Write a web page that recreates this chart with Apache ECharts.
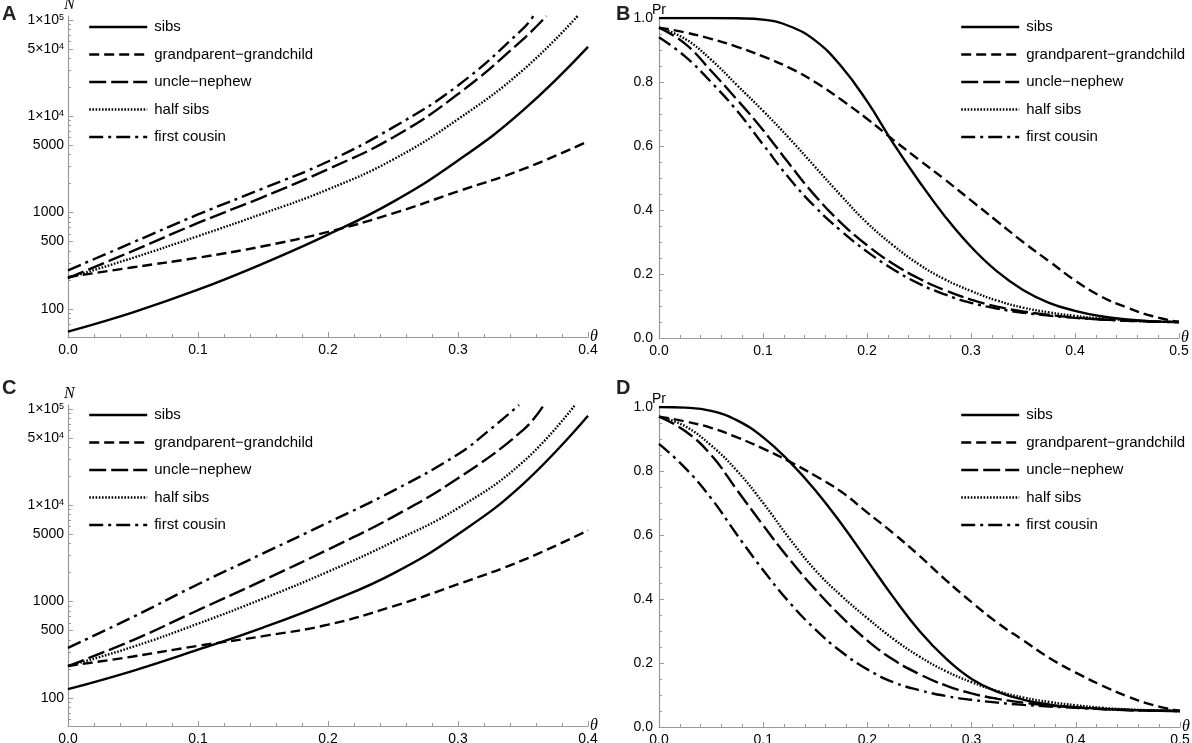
<!DOCTYPE html>
<html>
<head>
<meta charset="utf-8">
<title>N and Pr against theta</title>
<script src="https://cdn.jsdelivr.net/npm/echarts@6/dist/echarts.min.js"></script>
<style>
html, body { margin: 0; padding: 0; background: #fff; }
#chart { width: 1192px; height: 743px; }
</style>
</head>
<body>
<div id="chart"></div>
<script>
// 关系名称（图例）
var relNames = ['sibs', 'grandparent\u2212grandchild', 'uncle\u2212nephew', 'half sibs', 'first cousin'];

// A、C 两图的 θ 取值
var thetaN = [0, 0.05, 0.1, 0.15, 0.2, 0.25, 0.3, 0.35, 0.4];
// 在上边界处截止的曲线各自的 θ
var thetaAUncle = [0, 0.05, 0.1, 0.15, 0.2, 0.25, 0.3, 0.35, 0.368];
var thetaAHalf = [0, 0.05, 0.1, 0.15, 0.2, 0.25, 0.3, 0.35, 0.392];
var thetaACousin = [0, 0.05, 0.1, 0.15, 0.2, 0.25, 0.3, 0.35, 0.358];
var thetaCUncle = [0, 0.05, 0.1, 0.15, 0.2, 0.25, 0.3, 0.35, 0.366];
var thetaCHalf = [0, 0.05, 0.1, 0.15, 0.2, 0.25, 0.3, 0.35, 0.39];
var thetaCCousin = [0, 0.05, 0.1, 0.15, 0.2, 0.25, 0.3, 0.325, 0.347];

// 图 A：N
var aSibs = [58, 92, 158, 295, 590, 1290, 3470, 11500, 52500];
var aGrand = [214, 270, 340, 447, 630, 980, 1660, 2820, 5500];
var aUncle = [209, 400, 780, 1450, 2820, 6030, 17000, 63000, 110000];
var aHalf = [209, 339, 569, 977, 1740, 3550, 9330, 30200, 110000];
var aCousin = [251, 490, 955, 1780, 3390, 7670, 20900, 81300, 110000];

// 图 C：N
var cSibs = [123, 191, 316, 537, 977, 1950, 5000, 16600, 85000];
var cGrand = [214, 269, 347, 437, 575, 891, 1514, 2692, 5500];
var cUncle = [214, 398, 813, 1660, 3467, 7586, 19055, 60300, 110000];
var cHalf = [214, 339, 589, 1072, 2042, 4169, 9330, 28200, 110000];
var cCousin = [331, 692, 1514, 3162, 6607, 14125, 33900, 61700, 110000];

// B、D 两图的 θ 取值
var thetaPr = [0, 0.025, 0.05, 0.075, 0.1, 0.125, 0.15, 0.175, 0.2, 0.225, 0.25,
    0.275, 0.3, 0.325, 0.35, 0.375, 0.4, 0.425, 0.45, 0.475, 0.5];

// 图 B：Pr
var bSibs = [1.0, 1.0, 1.0, 0.999, 0.995, 0.975, 0.93, 0.85, 0.74, 0.61, 0.49,
    0.38, 0.285, 0.208, 0.15, 0.11, 0.085, 0.068, 0.058, 0.052, 0.05];
var bGrand = [0.97, 0.955, 0.935, 0.91, 0.88, 0.845, 0.80, 0.745, 0.685, 0.62, 0.557,
    0.495, 0.43, 0.365, 0.30, 0.24, 0.18, 0.13, 0.095, 0.068, 0.05];
var bUncle = [0.97, 0.92, 0.835, 0.745, 0.65, 0.545, 0.445, 0.36, 0.29, 0.232, 0.186,
    0.149, 0.12, 0.098, 0.083, 0.072, 0.064, 0.058, 0.054, 0.051, 0.05];
var bHalf = [0.97, 0.935, 0.87, 0.79, 0.71, 0.625, 0.535, 0.445, 0.36, 0.29, 0.23,
    0.183, 0.147, 0.117, 0.095, 0.08, 0.069, 0.061, 0.056, 0.052, 0.05];
var bCousin = [0.94, 0.88, 0.80, 0.71, 0.605, 0.50, 0.41, 0.335, 0.27, 0.215, 0.17,
    0.136, 0.11, 0.092, 0.079, 0.07, 0.063, 0.058, 0.054, 0.051, 0.05];

// 图 D：Pr
var dSibs = [1.0, 0.998, 0.988, 0.958, 0.905, 0.83, 0.74, 0.635, 0.52, 0.405, 0.30,
    0.215, 0.15, 0.11, 0.085, 0.07, 0.062, 0.057, 0.053, 0.051, 0.05];
var dGrand = [0.97, 0.955, 0.935, 0.905, 0.87, 0.83, 0.785, 0.735, 0.67, 0.605, 0.535,
    0.46, 0.39, 0.325, 0.27, 0.215, 0.17, 0.13, 0.095, 0.068, 0.05];
var dUncle = [0.97, 0.925, 0.85, 0.74, 0.63, 0.525, 0.43, 0.345, 0.27, 0.21, 0.165,
    0.13, 0.105, 0.088, 0.076, 0.067, 0.061, 0.056, 0.053, 0.051, 0.05];
var dHalf = [0.97, 0.94, 0.88, 0.80, 0.70, 0.59, 0.49, 0.41, 0.34, 0.275, 0.22,
    0.175, 0.14, 0.112, 0.092, 0.078, 0.068, 0.06, 0.055, 0.052, 0.05];
var dCousin = [0.885, 0.81, 0.715, 0.60, 0.49, 0.39, 0.305, 0.235, 0.18, 0.14, 0.115,
    0.097, 0.085, 0.076, 0.069, 0.064, 0.06, 0.056, 0.053, 0.051, 0.05];

// 对数轴刻度
var nMajorTicks = [100, 500, 1000, 5000, 10000, 50000, 100000];
var nMinorTicks = [60, 70, 80, 90, 200, 300, 400, 600, 700, 800, 900,
    2000, 3000, 4000, 6000, 7000, 8000, 9000,
    20000, 30000, 40000, 60000, 70000, 80000, 90000];

// 线型：实线、短虚线、长虚线、点线、点划线
var relDash = ['solid', [10, 5], [17, 5], [1.6, 1.6], [14, 5, 3, 5]];

var FONT = 'Liberation Sans';
var AXIS_GRAY = '#9a9a9a';

function zip(xs, ys) {
    var out = [];
    for (var i = 0; i < ys.length; i++) {
        out.push([xs[i], ys[i]]);
    }
    return out;
}

function fmtN(v) {
    if (v < 10000) return String(v);
    var e = Math.floor(Math.log10(v) + 1e-9);
    var m = Math.round(v / Math.pow(10, e));
    return m + '\u00d710{sup|' + e + '}';
}

function xAxisOf(gridIndex, max, nameBottom) {
    return {
        type: 'value',
        gridIndex: gridIndex,
        min: 0,
        max: max,
        interval: 0.1,
        name: '\u03b8',
        nameLocation: 'end',
        nameGap: 2,
        nameMoveOverlap: false,
        nameTextStyle: {
            fontFamily: 'Liberation Serif', fontStyle: 'italic', fontSize: 16,
            color: '#000', align: 'left', verticalAlign: 'middle', padding: [0, 0, nameBottom, 0]
        },
        axisLine: { lineStyle: { color: AXIS_GRAY, width: 1.2 } },
        axisTick: { inside: true, length: 5, lineStyle: { color: AXIS_GRAY } },
        minorTick: { show: true, splitNumber: 5, length: 3, lineStyle: { color: AXIS_GRAY } },
        splitLine: { show: false },
        minorSplitLine: { show: false },
        axisLabel: {
            color: '#000', fontSize: 14, fontFamily: FONT, margin: 6,
            formatter: function (v) { return v.toFixed(1); }
        }
    };
}

function logAxesOf(gridIndex) {
    var major = {
        type: 'log',
        gridIndex: gridIndex,
        position: 'left',
        min: 51,
        max: 110000,
        name: 'N',
        nameLocation: 'end',
        nameGap: 3,
        nameMoveOverlap: false,
        nameTextStyle: {
            fontFamily: 'Liberation Serif', fontStyle: 'italic', fontSize: 16,
            color: '#000', align: 'left', padding: [0, 0, 0, -4]
        },
        axisLine: { lineStyle: { color: AXIS_GRAY, width: 1.2 } },
        axisTick: { inside: true, length: 5, customValues: nMajorTicks, lineStyle: { color: AXIS_GRAY } },
        splitLine: { show: false },
        axisLabel: {
            customValues: nMajorTicks,
            formatter: fmtN,
            color: '#000', fontSize: 14, fontFamily: FONT, margin: 4,
            rich: {
                sup: { fontSize: 9, fontFamily: FONT, color: '#000', verticalAlign: 'top', lineHeight: 10 }
            }
        }
    };
    var minor = {
        type: 'log',
        gridIndex: gridIndex,
        position: 'left',
        min: 51,
        max: 110000,
        axisLine: { show: false },
        axisTick: { inside: true, length: 3, customValues: nMinorTicks, lineStyle: { color: AXIS_GRAY } },
        axisLabel: { show: false },
        splitLine: { show: false }
    };
    return [major, minor];
}

function prAxisOf(gridIndex) {
    return {
        type: 'value',
        gridIndex: gridIndex,
        min: 0,
        max: 1,
        interval: 0.2,
        name: 'Pr',
        nameLocation: 'end',
        nameGap: 1,
        nameMoveOverlap: false,
        nameTextStyle: { fontFamily: FONT, fontSize: 14, color: '#000' },
        axisLine: { lineStyle: { color: AXIS_GRAY, width: 1.2 } },
        axisTick: { inside: true, length: 5, lineStyle: { color: AXIS_GRAY } },
        minorTick: { show: true, splitNumber: 4, length: 3, lineStyle: { color: AXIS_GRAY } },
        splitLine: { show: false },
        minorSplitLine: { show: false },
        axisLabel: {
            color: '#000', fontSize: 14, fontFamily: FONT, margin: 6,
            formatter: function (v) { return v.toFixed(1); }
        }
    };
}

function lineSeries(name, dashIdx, xIdx, yIdx, data) {
    return {
        name: name,
        type: 'line',
        xAxisIndex: xIdx,
        yAxisIndex: yIdx,
        data: data,
        symbol: 'none',
        showSymbol: false,
        smooth: 0.45,
        clip: true,
        lineStyle: { color: '#000', width: 2.4, type: relDash[dashIdx] },
        itemStyle: { color: '#000' },
        emphasis: { disabled: true }
    };
}

function legendOf(left, top) {
    return {
        data: relNames,
        orient: 'vertical',
        left: left,
        top: top,
        padding: 0,
        itemWidth: 58,
        itemHeight: 15,
        itemGap: 12.5,
        selectedMode: false,
        itemStyle: { opacity: 0, color: 'rgba(0,0,0,0)', borderWidth: 0 },
        lineStyle: { width: 2.4 },
        textStyle: { color: '#000', fontSize: 15, fontFamily: FONT, padding: [0, 0, 0, 2] }
    };
}

function letterOf(text, left, top) {
    return {
        text: text, left: left, top: top, padding: 0,
        textStyle: { fontSize: 20, fontWeight: 'bold', fontFamily: FONT, color: '#222' }
    };
}

var chart = echarts.init(document.getElementById('chart'));

var aAxes = logAxesOf(0);
var cAxes = logAxesOf(2);

var option = {
    animation: false,
    backgroundColor: '#fff',
    title: [
        letterOf('A', 2, 4),
        letterOf('B', 616, 4),
        letterOf('C', 2, 378),
        letterOf('D', 616, 378)
    ],
    legend: [
        legendOf(88, 19.5),
        legendOf(960, 19.5),
        legendOf(88, 407.5),
        legendOf(960, 407.5)
    ],
    grid: [
        { left: 68, top: 16, width: 520, height: 321, containLabel: false, outerBoundsMode: 'none' },
        { left: 659, top: 18, width: 520, height: 320, containLabel: false, outerBoundsMode: 'none' },
        { left: 68, top: 405, width: 520, height: 321, containLabel: false, outerBoundsMode: 'none' },
        { left: 659, top: 407, width: 521, height: 320, containLabel: false, outerBoundsMode: 'none' }
    ],
    xAxis: [
        xAxisOf(0, 0.4, 6),
        xAxisOf(1, 0.5, 16),
        xAxisOf(2, 0.4, 6),
        xAxisOf(3, 0.5, 16)
    ],
    yAxis: [
        aAxes[0], aAxes[1],
        prAxisOf(1),
        cAxes[0], cAxes[1],
        prAxisOf(3)
    ],
    series: [
        lineSeries(relNames[0], 0, 0, 0, zip(thetaN, aSibs)),
        lineSeries(relNames[1], 1, 0, 0, zip(thetaN, aGrand)),
        lineSeries(relNames[2], 2, 0, 0, zip(thetaAUncle, aUncle)),
        lineSeries(relNames[3], 3, 0, 0, zip(thetaAHalf, aHalf)),
        lineSeries(relNames[4], 4, 0, 0, zip(thetaACousin, aCousin)),

        lineSeries(relNames[0], 0, 1, 2, zip(thetaPr, bSibs)),
        lineSeries(relNames[1], 1, 1, 2, zip(thetaPr, bGrand)),
        lineSeries(relNames[2], 2, 1, 2, zip(thetaPr, bUncle)),
        lineSeries(relNames[3], 3, 1, 2, zip(thetaPr, bHalf)),
        lineSeries(relNames[4], 4, 1, 2, zip(thetaPr, bCousin)),

        lineSeries(relNames[0], 0, 2, 3, zip(thetaN, cSibs)),
        lineSeries(relNames[1], 1, 2, 3, zip(thetaN, cGrand)),
        lineSeries(relNames[2], 2, 2, 3, zip(thetaCUncle, cUncle)),
        lineSeries(relNames[3], 3, 2, 3, zip(thetaCHalf, cHalf)),
        lineSeries(relNames[4], 4, 2, 3, zip(thetaCCousin, cCousin)),

        lineSeries(relNames[0], 0, 3, 5, zip(thetaPr, dSibs)),
        lineSeries(relNames[1], 1, 3, 5, zip(thetaPr, dGrand)),
        lineSeries(relNames[2], 2, 3, 5, zip(thetaPr, dUncle)),
        lineSeries(relNames[3], 3, 3, 5, zip(thetaPr, dHalf)),
        lineSeries(relNames[4], 4, 3, 5, zip(thetaPr, dCousin))
    ]
};

chart.setOption(option);
</script>
</body>
</html>
